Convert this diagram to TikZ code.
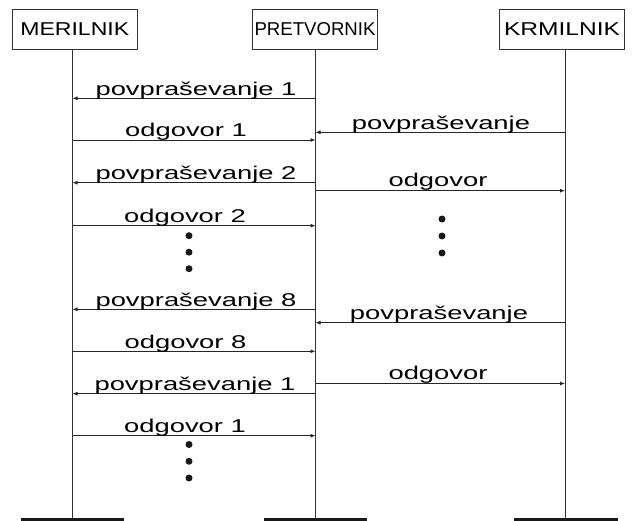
\documentclass[tikz,border=0pt]{standalone}
\usepackage{fontspec}
\setmainfont{Liberation Sans}
\newfontfamily\lblfont{Liberation Sans}[FakeStretch=1.48]
\newfontfamily\mfont{Liberation Sans}[FakeStretch=1.24]
\newfontfamily\kfont{Liberation Sans}[FakeStretch=1.32]
\newfontfamily\pfont{Liberation Sans}
\usetikzlibrary{arrows.meta}
\begin{document}
\begin{tikzpicture}[x=1pt,y=-1pt,
  actor/.style={draw=black!80,line width=0.8pt,minimum width=125pt,minimum height=40pt,inner sep=0pt,fill=white},
  life/.style={draw=black!80,line width=0.8pt},
  msg/.style={draw=black!85,line width=0.8pt,-{Latex[length=5pt,width=4pt]}},
  lbl/.style={anchor=base,inner sep=0pt,font=\lblfont\fontsize{18.5}{20}\selectfont},
  dotm/.style={fill=black!90,draw=none,circle,minimum size=7pt,inner sep=0pt},
  bar/.style={fill=black!90,draw=none}]
\useasboundingbox (0,0) rectangle (632,521);
% actors
\node[actor,font=\mfont\fontsize{18.6}{20}\selectfont] (M) at (74.8,29.3) {MERILNIK};
\node[actor,font=\pfont\fontsize{18.6}{20}\selectfont] (P) at (315,29.3) {PRETVORNIK};
\node[actor,font=\kfont\fontsize{18.6}{20}\selectfont] (K) at (562,29.3) {KRMILNIK};
% lifelines
\coordinate (Mt) at (72.5,49.3);
\coordinate (Pt) at (315.5,49.3);
\coordinate (Kt) at (565,49.3);
\coordinate (Mb) at (72.5,518.5);
\coordinate (Pb) at (315.5,518.5);
\coordinate (Kb) at (565,518.5);
\draw[life] (Mt) -- (Mb);
\draw[life] (Pt) -- (Pb);
\draw[life] (Kt) -- (Kb);
% bottom bars
\fill[bar] (21,518.3) rectangle (124,521);
\fill[bar] (264,518.3) rectangle (367,521);
\fill[bar] (514,518.3) rectangle (618,521);
% messages
\draw[msg] (Pt |- 0,98.3) -- (Mt |- 0,98.3);
\node[lbl] (l1) at (196,95.5) {povpraševanje 1};
\draw[msg] (Kt |- 0,132.3) -- (Pt |- 0,132.3);
\node[lbl] (l2) at (441,129.3) {povpraševanje};
\draw[msg] (Mt |- 0,140) -- (Pt |- 0,140);
\node[lbl] (l3) at (186,137) {odgovor 1};
\draw[msg] (Pt |- 0,182.7) -- (Mt |- 0,182.7);
\node[lbl] (l4) at (196,179.7) {povpraševanje 2};
\draw[msg] (Pt |- 0,190.7) -- (Kt |- 0,190.7);
\node[lbl] (l5) at (438,186.7) {odgovor};
\draw[msg] (Mt |- 0,225.7) -- (Pt |- 0,225.7);
\node[lbl] (l6) at (185,222.7) {odgovor 2};
\node[dotm] (d1) at (189,235.7) {};
\node[dotm] (d2) at (189,252.2) {};
\node[dotm] (d3) at (189,268.7) {};
\node[dotm] (d4) at (442,219) {};
\node[dotm] (d5) at (442,236) {};
\node[dotm] (d6) at (442,253) {};
\draw[msg] (Pt |- 0,309.3) -- (Mt |- 0,309.3);
\node[lbl] (l7) at (196,306.3) {povpraševanje 8};
\draw[msg] (Kt |- 0,322.7) -- (Pt |- 0,322.7);
\node[lbl] (l8) at (439,319.7) {povpraševanje};
\draw[msg] (Mt |- 0,351.3) -- (Pt |- 0,351.3);
\node[lbl] (l9) at (185.5,348.3) {odgovor 8};
\draw[msg] (Pt |- 0,383.5) -- (Kt |- 0,383.5);
\node[lbl] (l10) at (438,379) {odgovor};
\draw[msg] (Pt |- 0,393.7) -- (Mt |- 0,393.7);
\node[lbl] (l11) at (195,390.7) {povpraševanje 1};
\draw[msg] (Mt |- 0,435.7) -- (Pt |- 0,435.7);
\node[lbl] (l12) at (185,432.7) {odgovor 1};
\node[dotm] (d7) at (189,444.5) {};
\node[dotm] (d8) at (189,461.3) {};
\node[dotm] (d9) at (189,478) {};
\end{tikzpicture}
\end{document}
